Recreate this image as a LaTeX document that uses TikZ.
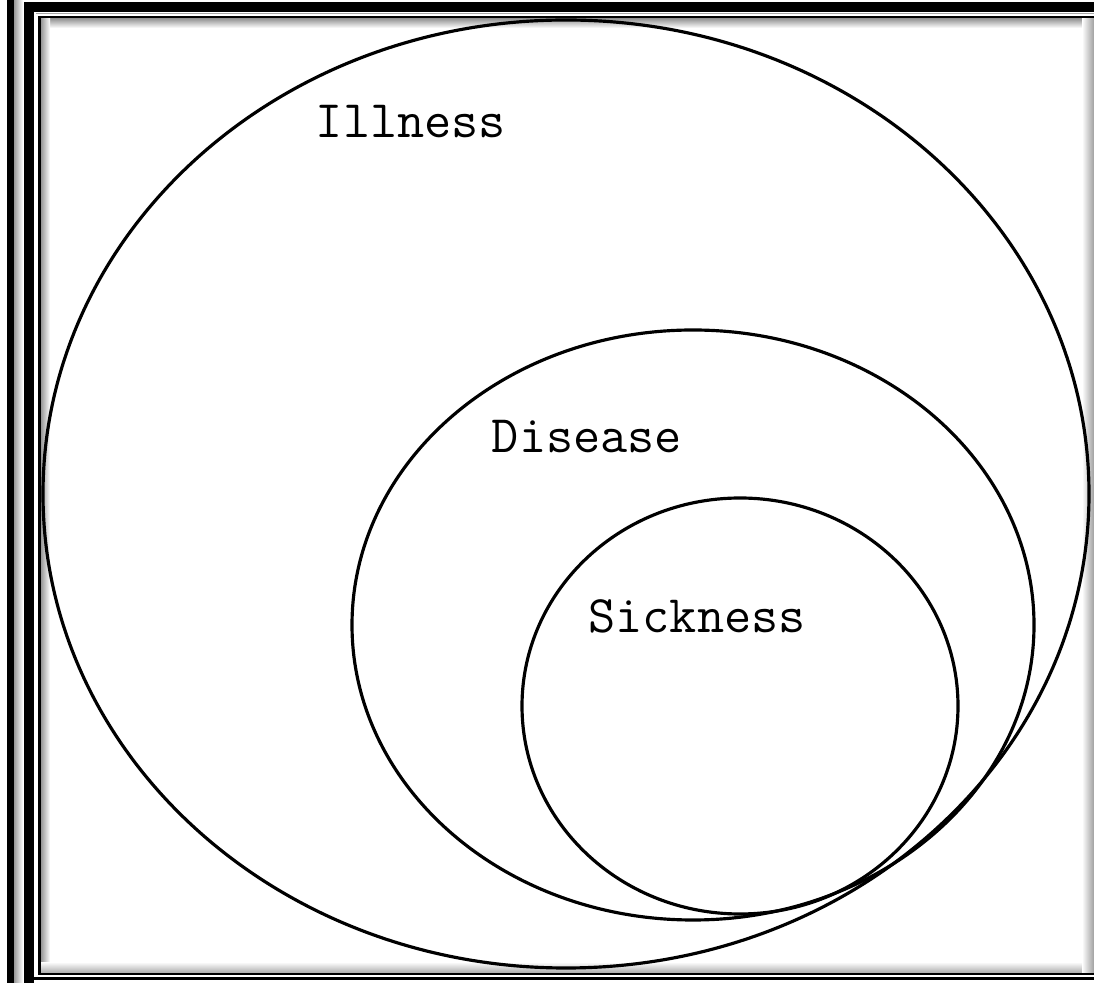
\documentclass[tikz,border=0pt]{standalone}
\usepackage{tikz}
\usetikzlibrary{calc,positioning}

\begin{document}
\begin{tikzpicture}[x=0.01cm,y=-0.01cm]
        \useasboundingbox (0,0) rectangle (1094,983);
        \def\lw{0.9pt}
        \coordinate (c1) at (566,494);
        \coordinate (c2) at (693,625);
        \coordinate (c3) at (740,706);
        %Frame
        \fill[black] (7,0) rectangle (14,983);
        \shade[left color=gray!80,right color=white] (14,0) rectangle (23,983);
        \fill[black] (24,2) rectangle (1094,12);
        \fill[black] (24,2) rectangle (34,983);
        \fill[gray!70] (36,13) rectangle (1094,14);
        \fill[black] (38,16) rectangle (1094,19);
        \fill[black] (38,16) rectangle (41,973);
        \fill[black] (38,972) rectangle (1094,975);
        \fill[black] (34,977) rectangle (1094,980);
        %Shade
        \shade[top color=gray!80,bottom color=white] (41,19) rectangle (1094,28);
        \shade[left color=gray!80,right color=white] (41,19) rectangle (50,972);
        \shade[top color=white,bottom color=gray!60] (41,962) rectangle (1094,972);
        \shade[left color=white,right color=gray!75] (1082,19) rectangle (1094,972);
        %Sets
        \draw[line width=\lw] (c1) ellipse[x radius=523,y radius=474];
        \draw[line width=\lw] (c2) ellipse[x radius=341,y radius=295];
        \draw[line width=\lw] (c3) ellipse[x radius=218,y radius=208];
        %Labels
        \node[anchor=base,font=\ttfamily\fontsize{15}{17}\selectfont] (illness) at (411,138) {Illness};
        \node[anchor=base,font=\ttfamily\fontsize{15}{17}\selectfont] (disease) at (587,453) {Disease};
        \node[anchor=base,font=\ttfamily\fontsize{15}{17}\selectfont] (sickness) at (697,633) {Sickness};
      \end{tikzpicture}
\end{document}
